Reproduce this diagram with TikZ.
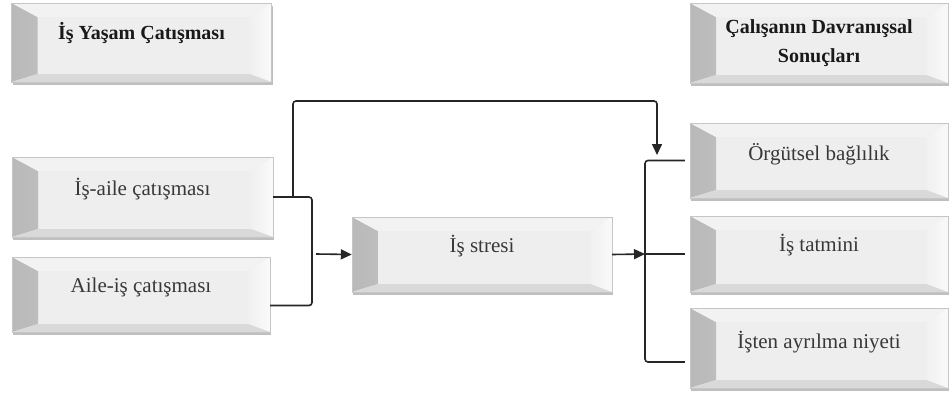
\documentclass[tikz,border=0pt]{standalone}
\usepackage{fontspec}
\setmainfont{Liberation Serif}
\usetikzlibrary{arrows.meta,shadows}
\begin{document}
\begin{tikzpicture}[x=1pt,y=-1pt,
  bevbase/.style={minimum width=260pt, minimum height=78pt, inner sep=0pt,
    fill=gray!13, draw=gray!45, line width=0.4pt,
    drop shadow={shadow xshift=1pt, shadow yshift=-3pt, opacity=0.5},
    path picture={
      \shade[left color=gray!55, right color=gray!22]
        (path picture bounding box.north west) -- ++(26,14)
        -- ([shift={(26,-8)}]path picture bounding box.south west)
        -- (path picture bounding box.south west) -- cycle;
      \fill[white!90!gray]
        (path picture bounding box.north west) -- (path picture bounding box.north east)
        -- ++(-22,14) -- ([shift={(26,14)}]path picture bounding box.north west) -- cycle;
      \shade[left color=gray!12, right color=gray!4]
        (path picture bounding box.north east) -- ++(-22,14)
        -- ([shift={(-22,-8)}]path picture bounding box.south east)
        -- (path picture bounding box.south east) -- cycle;
      \fill[gray!30]
        (path picture bounding box.south west) -- ([shift={(26,-8)}]path picture bounding box.south west)
        -- ([shift={(-22,-8)}]path picture bounding box.south east)
        -- (path picture bounding box.south east) -- cycle;
    }},
  bev/.style={bevbase, font=\fontsize{21}{25}\selectfont, text=black!78,
    text height=15pt, text depth=19pt},
  head/.style={bevbase, font=\fontsize{20}{29}\selectfont\bfseries, text=black!90, align=center},
  conn/.style={line width=1.6pt, draw=black!85, rounded corners=3pt},
  arr/.style={conn, -{Triangle[length=11pt, width=10pt]}}
]
\useasboundingbox (0,0) rectangle (952,394);

\node[head, minimum height=79pt, text height=15pt, text depth=21pt] (h1) at (141.5,42.5) {İş Yaşam Çatışması};
\node[head, minimum width=258pt, minimum height=80pt] (h2) at (819,43) {Çalışanın Davranışsal\\Sonuçları};

\node[bev, minimum width=261pt, minimum height=80pt] (n1) at (142.5,197) {İş-aile çatışması};
\node[bev, minimum width=258pt, minimum height=75pt] (n2) at (141,294.5) {Aile-iş çatışması};

\node[bev, minimum width=260pt, minimum height=75pt] (st) at (482,254.5) {İş stresi};

\node[bev, minimum width=258pt, minimum height=75pt, text depth=15pt] (o1) at (819,160.5) {Örgütsel bağlılık};
\node[bev, minimum width=258pt, minimum height=76pt, text depth=21pt] (o2) at (819,254) {İş tatmini};
\node[bev, minimum width=258pt, minimum height=80pt, text depth=15pt] (o3) at (819,348) {İşten ayrılma niyeti};

\coordinate (lx) at (312,0);
\coordinate (ba) at (316,254);
\coordinate (up) at (293,197);
\coordinate (top) at (0,101);
\coordinate (tip) at (657,155);
\coordinate (rx) at (645,0);

% left bracket
\draw[conn] (n1.east) -- (n1.east -| lx) -- ([yshift=-11pt]n2.east -| lx) -- ([yshift=-11pt]n2.east);
\draw[arr] (ba) -- (st.west);
\draw[arr] (up) -- (up |- top) -| (tip);

% right bracket
\draw[conn] ([xshift=-5pt]o1.west) -- (o1.west -| rx) -- ([yshift=-14pt]o3.west -| rx) -- ([shift={(-5pt,-14pt)}]o3.west);
\draw[conn] (o2.west -| rx) -- ([xshift=-5pt]o2.west);
\draw[arr] (st.east) -- (o2.west -| rx);
\end{tikzpicture}
\end{document}
